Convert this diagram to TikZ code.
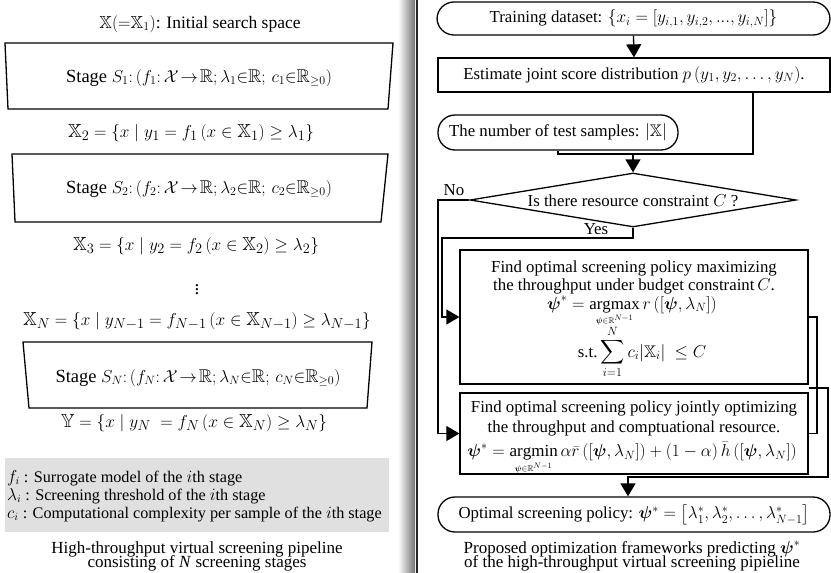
\documentclass[tikz,border=0pt]{standalone}
\usepackage{amsmath,amssymb,bm}
\usepackage{fontspec}
\setmainfont{Liberation Serif}
\usetikzlibrary{arrows.meta,shapes.geometric,calc}
\newcommand\fsz{\fontsize{16.8}{19}\selectfont}
\newcommand\fsL{\fontsize{19}{22}\selectfont}
\newcommand\fsS{\fontsize{18.5}{22}\selectfont}
\newcommand\fsT{\fontsize{17.5}{20}\selectfont}
\newcommand\fsG{\fontsize{16.2}{18}\selectfont}
\newcommand\fsC{\fontsize{17}{18}\selectfont}
\newcommand\fsE{\fontsize{17}{19}\selectfont}
\tikzset{
  conn/.style={line width=1.3pt, draw=black},
  arr/.style={conn, -{Triangle[width=15pt,length=13pt]}},
  procbox/.style={draw, line width=1.3pt, rectangle, inner sep=0pt, font=\fsz},
  termbox/.style={draw, line width=1.3pt, rectangle, rounded corners=17pt, inner sep=0pt, font=\fsz},
  decbox/.style={draw, line width=1.3pt, diamond, inner sep=0pt},
  stagebox/.style={line width=1.3pt, draw=black},
  txt/.style={inner sep=0pt, font=\fsz},
  ltxt/.style={inner sep=0pt, font=\fsL},
}
\begin{document}
\begin{tikzpicture}[x=1pt,y=-1pt]
\useasboundingbox (0,0) rectangle (831,573);
% divider
\shade[left color=white, right color=black!55] (398,0) rectangle (415,573);
\fill[black!85] (415.5,0) rectangle (418,573);

% ---------- left side ----------
\node[ltxt, font=\fsT, anchor=base] (init) at (200,28) {$\mathbb{X}({=}\mathbb{X}_1)$: Initial search space};
\draw[stagebox] (5,43) -- (393,43) -- (388,109) -- (8,109) -- cycle;
\node[ltxt, font=\fsS, anchor=base] (s1) at (199,82) {Stage $S_1{:}\,(f_1{:}\,\mathcal{X}\!\rightarrow\!\mathbb{R};\lambda_1{\in}\mathbb{R};\,c_1{\in}\mathbb{R}_{\geq 0})$};
\node[ltxt, anchor=base] (x2) at (191,137) {$\mathbb{X}_2=\{x\mid y_1=f_1\left(x\in\mathbb{X}_1\right)\geq\lambda_1\}$};
\draw[stagebox] (12,154) -- (388,154) -- (381,222) -- (15,222) -- cycle;
\node[ltxt, font=\fsS, anchor=base] (s2) at (199,193) {Stage $S_2{:}\,(f_2{:}\,\mathcal{X}\!\rightarrow\!\mathbb{R};\lambda_2{\in}\mathbb{R};\,c_2{\in}\mathbb{R}_{\geq 0})$};
\node[ltxt, anchor=base] (x3) at (196,250) {$\mathbb{X}_3=\{x\mid y_2=f_2\left(x\in\mathbb{X}_2\right)\geq\lambda_2\}$};
\node[ltxt] (vd) at (197,287) {$\vdots$};
\node[ltxt, anchor=base] (xn) at (197,325) {$\mathbb{X}_N=\{x\mid y_{N-1}=f_{N-1}\left(x\in\mathbb{X}_{N-1}\right)\geq\lambda_{N-1}\}$};
\draw[stagebox] (23,342) -- (372,342) -- (367,408) -- (29,408) -- cycle;
\node[ltxt, font=\fsS, anchor=base] (sn) at (198,382) {Stage $S_N{:}\,(f_N{:}\,\mathcal{X}\!\rightarrow\!\mathbb{R};\lambda_N{\in}\mathbb{R};\,c_N{\in}\mathbb{R}_{\geq 0})$};
\node[ltxt, anchor=base] (yy) at (194,427) {$\mathbb{Y}=\{x\mid y_N\;=f_N\left(x\in\mathbb{X}_N\right)\geq\lambda_N\}$};
\fill[black!12] (5,458) rectangle (389,532);
\node[txt, font=\fsG, anchor=base west] (l1) at (7,482) {$f_i$ : Surrogate model of the $i$th stage};
\node[txt, font=\fsG, anchor=base west] (l2) at (7,500) {$\lambda_i$ : Screening threshold of the $i$th stage};
\node[txt, font=\fsG, anchor=base west] (l3) at (7,518) {$c_i$ : Computational complexity per sample of the $i$th stage};
\node[txt, font=\fsC, anchor=base] (cap1) at (197,553) {High-throughput virtual screening pipeline};
\node[txt, font=\fsC, anchor=base] (cap2) at (197,567) {consisting of \textit{N} screening stages};

% ---------- right side ----------
\node[termbox, minimum width=393pt, minimum height=33pt] (train) at (633.5,18.5)
  {Training dataset: $\{x_i=[y_{i,1},y_{i,2},...,y_{i,N}]\}$};
\node[procbox, minimum width=392pt, minimum height=34pt] (est) at (634,75)
  {Estimate joint score distribution $p\left(y_1,y_2,\ldots,y_N\right)$.};
\node[termbox, minimum width=240pt, minimum height=35pt] (test) at (558,132.5)
  {The number of test samples: $|\mathbb{X}|$};
\node[decbox, minimum width=326pt, minimum height=54pt] (dia) at (633,200) {};
\node[txt] (diatxt) at (633,201) {Is there resource constraint $C$ ?};
\node[procbox, minimum width=348pt, minimum height=134pt] (box1) at (634,317) {};
\node[procbox, minimum width=348pt, minimum height=81pt] (box2) at (634,433.5) {};
\node[termbox, minimum width=392pt, minimum height=35pt] (final) at (634,514.5)
  {Optimal screening policy: $\bm{\psi}^*=\left[\lambda_1^*,\lambda_2^*,\ldots,\lambda_{N-1}^*\right]$};

% box1 text
\node[txt, anchor=base] (b1a) at (634,272.5) {Find optimal screening policy maximizing};
\node[txt, anchor=base] (b1b) at (634,290.5) {the throughput under budget constraint\,$C$.};
\node[txt, anchor=base] (b1c) at (632,309) {$\displaystyle\bm{\psi}^*=\operatorname*{argmax}_{\scriptscriptstyle\bm{\psi}\in\mathbb{R}^{N-1}} r\left([\bm{\psi},\lambda_N]\right)$};
\node[txt, anchor=base] (b1d) at (642,357) {$\displaystyle\text{s.t.}\sum_{i=1}^{N}c_i|\mathbb{X}_i|\ \leq C$};
% box2 text
\node[txt, anchor=base] (b2a) at (634,412) {Find optimal screening policy jointly optimizing};
\node[txt, anchor=base] (b2b) at (634,432) {the throughput and comptuational resource.};
\node[txt, font=\fsE, anchor=base] (b2c) at (632,456.5) {$\displaystyle\bm{\psi}^*=\operatorname*{argmin}_{\scriptscriptstyle\bm{\psi}\in\mathbb{R}^{N-1}}\alpha\bar{r}\left([\bm{\psi},\lambda_N]\right)+(1-\alpha)\,\bar{h}\left([\bm{\psi},\lambda_N]\right)$};

\node[txt, font=\fsC, anchor=base] (cap3) at (632,553) {Proposed optimization frameworks predicting $\bm{\psi}^*$};
\node[txt, font=\fsC, anchor=base] (cap4) at (632,567) {of the high-throughput virtual screening pipieline};

% connectors
\coordinate (j1) at (753,154);
\coordinate (j2) at (633,154);
\draw[arr] (train.south) -- (est.north);
\draw[conn] (est.south -| j1) -- (j1) -| (test.south);
\draw[arr] (j2) -- (dia.north);
\coordinate (n1) at (438,200);
\draw[arr] (dia.west) -- (n1) |- (box2.west);
\node[txt] (nolab) at (454,190) {No};
\coordinate (y1) at (442,238);
\draw[arr] (dia.south) |- (y1) |- (box1.west);
\node[txt] (yeslab) at (596,229) {Yes};
\coordinate (r1) at (817,317);
\draw[conn] (box1.east) -- (r1) |- (box2.east);
\coordinate (r2) at (828,388);
\coordinate (r3) at (628,477);
\draw[arr] (box2.north east |- r2) -- (r2) |- (r3) -- (r3 |- final.north);
\end{tikzpicture}
\end{document}
